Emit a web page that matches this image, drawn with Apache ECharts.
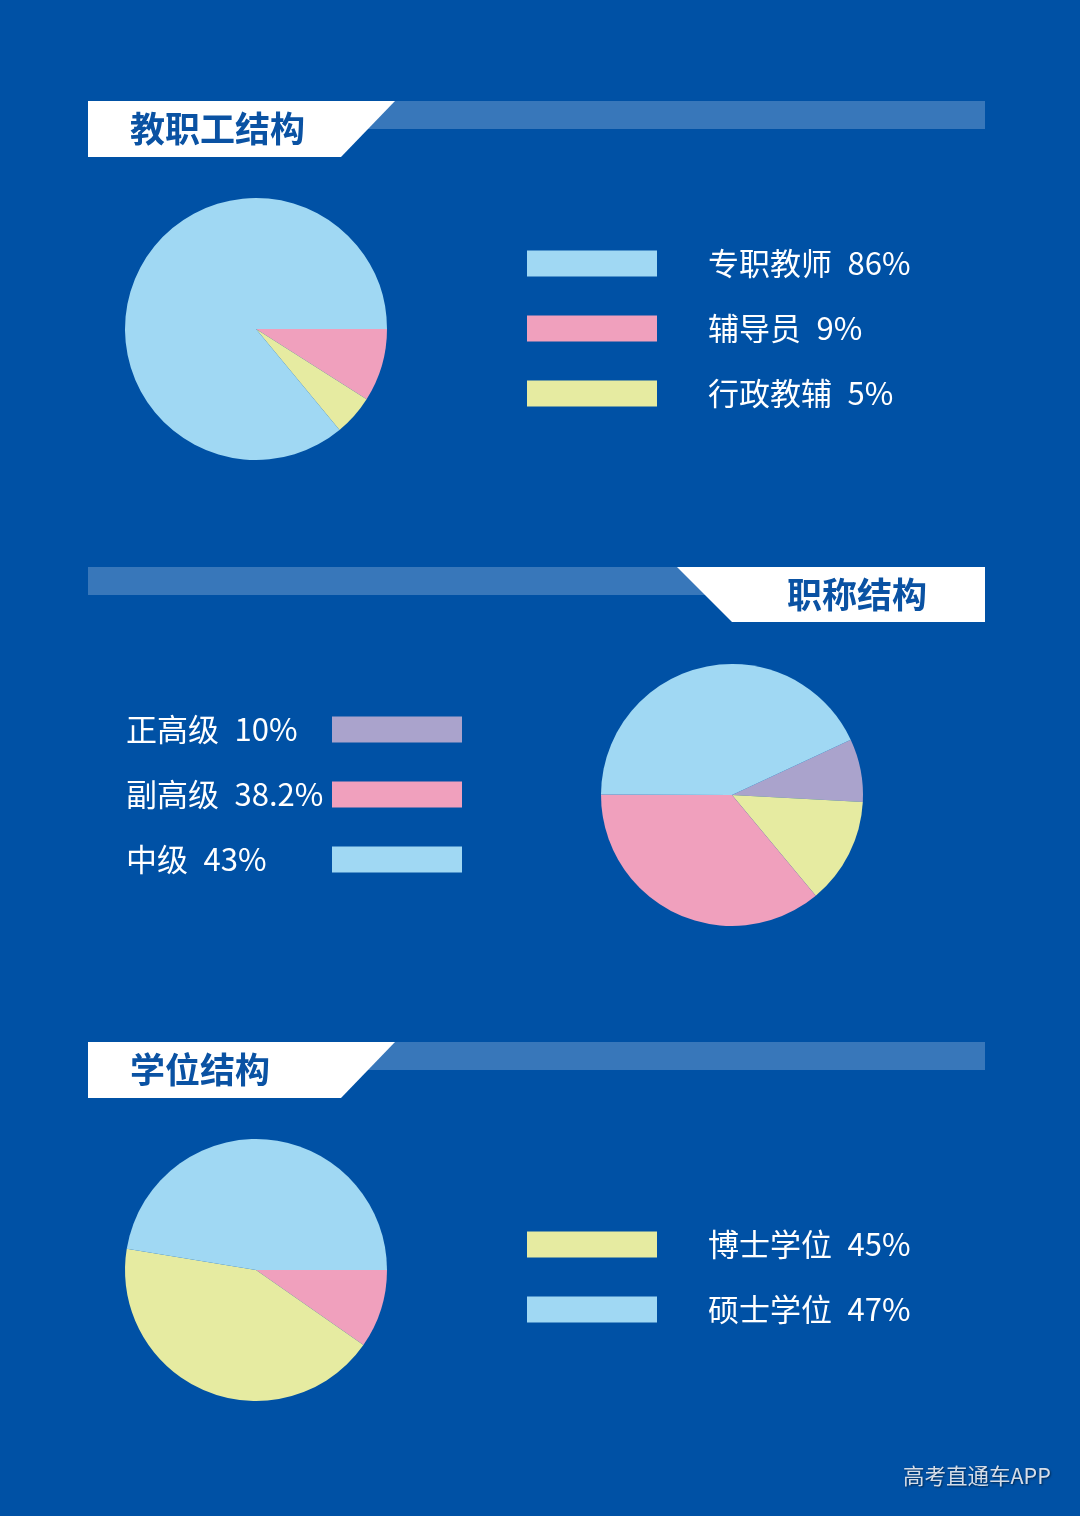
<!DOCTYPE html>
<html>
<head>
<meta charset="utf-8">
<script src="https://cdn.jsdelivr.net/npm/echarts@6/dist/echarts.min.js"></script>
<style>
html,body{margin:0;padding:0;background:#0051a5;}
#main{width:1080px;height:1516px;}
</style>
</head>
<body>
<div id="main"></div>
<script>
// ---- Data ----
const sectionTitles = ['教职工结构', '职称结构', '学位结构'];

// Pie 1: staff structure (slice order as drawn clockwise from 3 o'clock)
const staffNames = ['辅导员', '行政教辅', '专职教师'];
const staffValues = [9, 5, 86];
const staffLegendOrder = ['专职教师', '辅导员', '行政教辅'];
const staffLegendLabels = ['86%', '9%', '5%'];

// Pie 2: title structure (slice sizes)
const rankNames = ['正高级', '其他', '副高级', '中级'];
const rankValues = [7.8, 13.1, 36.1, 43.0];
const rankLegendOrder = ['正高级', '副高级', '中级'];
const rankLegendLabels = ['10%', '38.2%', '43%'];

// Pie 3: degree structure (slice sizes)
const degreeNames = ['其他学位', '博士学位', '硕士学位'];
const degreeValues = [9.7, 42.9, 47.4];
const degreeLegendOrder = ['博士学位', '硕士学位'];
const degreeLegendLabels = ['45%', '47%'];

const watermark = '高考直通车APP';

// ---- Styles ----
const C = {
  blue: '#a0d8f3',
  pink: '#f0a0bd',
  yellow: '#e6eba1',
  purple: '#aaa3cc',
  bar: '#3877ba',
  titleText: '#0a52a3'
};
const colorOf = {
  '专职教师': C.blue, '辅导员': C.pink, '行政教辅': C.yellow,
  '正高级': C.purple, '其他': C.yellow, '副高级': C.pink, '中级': C.blue,
  '其他学位': C.pink, '博士学位': C.yellow, '硕士学位': C.blue
};
const FONT = '"Noto Sans CJK SC", "Noto Sans", sans-serif';

function mk(names, values) {
  return names.map((n, i) => ({ name: n, value: values[i], itemStyle: { color: colorOf[n] } }));
}
const labelMap = {};
staffLegendOrder.forEach((n, i) => labelMap[n] = staffLegendLabels[i]);
rankLegendOrder.forEach((n, i) => labelMap[n] = rankLegendLabels[i]);
degreeLegendOrder.forEach((n, i) => labelMap[n] = degreeLegendLabels[i]);

const chart = echarts.init(document.getElementById('main'));

function pieSeries(center, startAngle, data) {
  return {
    type: 'pie',
    center: center,
    radius: 131,
    startAngle: startAngle,
    clockwise: true,
    data: data,
    label: { show: false },
    labelLine: { show: false },
    itemStyle: { borderWidth: 0 },
    emphasis: { disabled: true },
    silent: true
  };
}

const legendBase = {
  orient: 'vertical',
  icon: 'rect',
  itemWidth: 130,
  itemHeight: 26,
  itemGap: 34,
  padding: 0,
  selectedMode: false
};

function header(y, right) {
  const els = [];
  els.push({ type: 'rect', shape: { x: 88, y: y, width: 897, height: 28 }, style: { fill: C.bar } });
  if (!right) {
    els.push({ type: 'polygon', shape: { points: [[88, y], [395, y], [341, y + 56], [88, y + 56]] }, style: { fill: '#ffffff' } });
  } else {
    els.push({ type: 'polygon', shape: { points: [[677, y], [985, y], [985, y + 55], [732, y + 55]] }, style: { fill: '#ffffff' } });
  }
  return els;
}

const graphics = [].concat(
  header(101, false),
  header(567, true),
  header(1042, false),
  [
    { type: 'text', x: 130, y: 129, style: { text: sectionTitles[0], fill: C.titleText, font: 'bold 35px ' + FONT, textVerticalAlign: 'middle' } },
    { type: 'text', x: 927, y: 595, style: { text: sectionTitles[1], fill: C.titleText, font: 'bold 35px ' + FONT, textAlign: 'right', textVerticalAlign: 'middle' } },
    { type: 'text', x: 130, y: 1070, style: { text: sectionTitles[2], fill: C.titleText, font: 'bold 35px ' + FONT, textVerticalAlign: 'middle' } },
    { type: 'text', x: 903, y: 1476, style: { text: watermark, fill: '#d5dde8', font: '21.5px ' + FONT, textVerticalAlign: 'middle', textShadowColor: 'rgba(0,0,0,0.5)', textShadowBlur: 2, textShadowOffsetX: 1, textShadowOffsetY: 1 } }
  ]
);

const rightTextStyle = { color: '#ffffff', fontSize: 31, fontFamily: FONT, padding: [0, 0, 0, 46] };

chart.setOption({
  backgroundColor: '#0051a5',
  animation: false,
  legend: [
    Object.assign({}, legendBase, {
      left: 527, top: 248,
      data: staffLegendOrder,
      formatter: n => n + '\u2002' + labelMap[n],
      textStyle: rightTextStyle
    }),
    Object.assign({}, legendBase, {
      left: 126, top: 714, align: 'right',
      data: rankLegendOrder,
      formatter: n => '{t|' + n + '\u2002' + labelMap[n] + '}',
      textStyle: {
        color: '#ffffff', fontSize: 31, fontFamily: FONT,
        rich: { t: { width: 201, align: 'left', color: '#ffffff', fontSize: 31, fontFamily: FONT } }
      }
    }),
    Object.assign({}, legendBase, {
      left: 527, top: 1229,
      data: degreeLegendOrder,
      formatter: n => n + '\u2002' + labelMap[n],
      textStyle: rightTextStyle
    })
  ],
  graphic: graphics,
  series: [
    pieSeries([256, 329], 0, mk(staffNames, staffValues)),
    pieSeries([732, 795], 25, mk(rankNames, rankValues)),
    pieSeries([256, 1270], 0, mk(degreeNames, degreeValues))
  ]
});
</script>
</body>
</html>
